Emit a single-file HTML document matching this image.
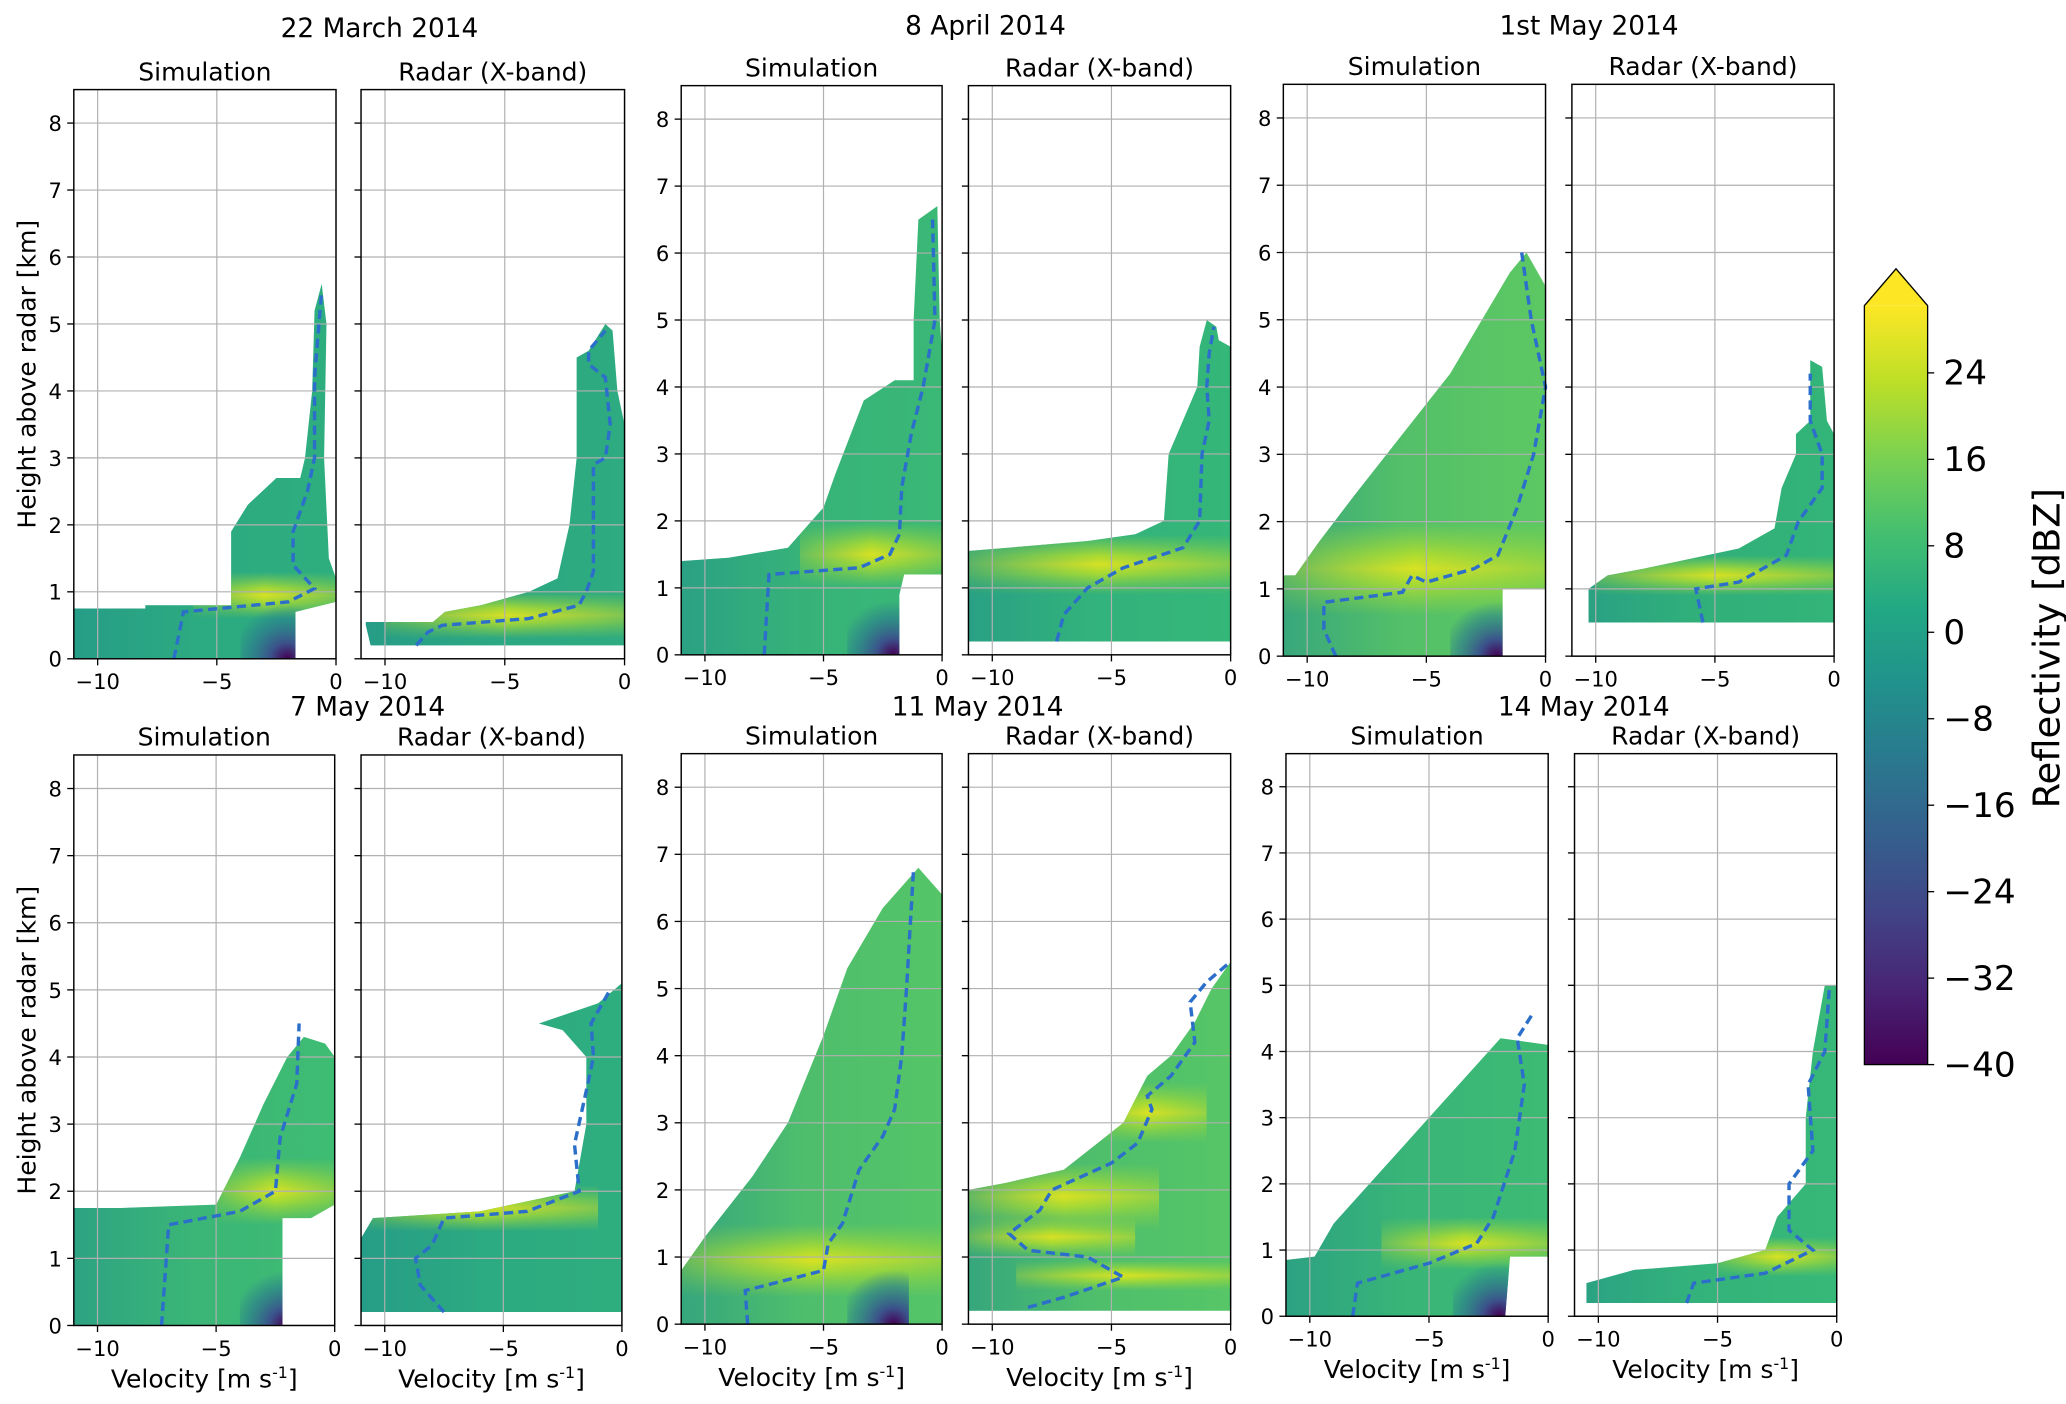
<!DOCTYPE html>
<html><head><meta charset="utf-8"><style>
html,body{margin:0;padding:0;background:#fff}
svg{display:block}
text{font-family:"DejaVu Sans","Liberation Sans",sans-serif;fill:#000}
</style></head><body>
<svg id="fig" width="2066" height="1404" viewBox="0 0 1568 1065.6" xmlns="http://www.w3.org/2000/svg">
<defs>
<linearGradient id="cbg" x1="0" y1="1" x2="0" y2="0">
<stop offset="0" stop-color="#440154"/><stop offset="0.1" stop-color="#482475"/><stop offset="0.2" stop-color="#414487"/><stop offset="0.3" stop-color="#355f8d"/><stop offset="0.4" stop-color="#2a788e"/><stop offset="0.5" stop-color="#21918c"/><stop offset="0.6" stop-color="#22a884"/><stop offset="0.7" stop-color="#44bf70"/><stop offset="0.8" stop-color="#7ad151"/><stop offset="0.9" stop-color="#bddf26"/><stop offset="1" stop-color="#fde725"/>
</linearGradient>
<linearGradient id="bandGrad" x1="0" y1="0" x2="0" y2="1">
<stop offset="0" stop-color="#9fd938" stop-opacity="0"/><stop offset="0.35" stop-color="#b5de2b" stop-opacity="0.9"/><stop offset="0.5" stop-color="#e0e31f" stop-opacity="0.95"/><stop offset="0.65" stop-color="#b5de2b" stop-opacity="0.9"/><stop offset="1" stop-color="#9fd938" stop-opacity="0"/>
</linearGradient>
<linearGradient id="bandGradH" x1="0" y1="0" x2="1" y2="0">
<stop offset="0" stop-color="#fff" stop-opacity="0.3"/><stop offset="0.5" stop-color="#fff" stop-opacity="1"/><stop offset="1" stop-color="#fff" stop-opacity="0.5"/>
</linearGradient>
<linearGradient id="leftShade" x1="0" y1="0" x2="1" y2="0">
<stop offset="0" stop-color="#21918c" stop-opacity="0.6"/><stop offset="0.45" stop-color="#21918c" stop-opacity="0.15"/><stop offset="1" stop-color="#21918c" stop-opacity="0"/>
</linearGradient>
<radialGradient id="darkSpot" cx="0.75" cy="1" r="0.9">
<stop offset="0" stop-color="#440154"/><stop offset="0.3" stop-color="#3b528b"/><stop offset="0.7" stop-color="#2a788e" stop-opacity="0.6"/><stop offset="1" stop-color="#2a788e" stop-opacity="0"/>
</radialGradient>
</defs>
</svg>
<script>
// ---- data ----
const dates = ["22 March 2014","8 April 2014","1st May 2014","7 May 2014","11 May 2014","14 May 2014"];
const panelTitles = ["Simulation","Radar (X-band)"];
const xTicks = [-10,-5,0];
const yTicks = [0,1,2,3,4,5,6,7,8];
const cbTicks = [24,16,8,0,-8,-16,-24,-32,-40];
const outline0 = [[-11,0],[-11,0.75],[-8,0.75],[-8,0.8],[-4.4,0.8],[-4.4,1.9],[-3.7,2.3],[-2.5,2.7],[-1.5,2.7],[-1.3,3],[-1,4],[-0.9,5.2],[-0.6,5.6],[-0.4,5],[-0.5,3],[-0.3,1.5],[0,1.2],[0,0.85],[-1.7,0.7],[-1.7,0]];
const outline1 = [[-10.8,0.5],[-10.6,0.2],[0,0.2],[0,3.5],[-0.3,4],[-0.5,4.9],[-0.8,5],[-1.5,4.6],[-2,4.5],[-2,3],[-2.3,2],[-2.8,1.2],[-4,1],[-6,0.8],[-7.5,0.7],[-8,0.55],[-10.8,0.55]];
const outline2 = [[-11,0],[-11,1.4],[-9,1.45],[-6.5,1.6],[-5,2.2],[-4.5,2.7],[-3.3,3.8],[-2,4.1],[-1.2,4.1],[-1.2,5],[-1,6.5],[-0.2,6.7],[-0.1,5],[0,4.5],[0,1.2],[-1.6,1.2],[-1.8,0.9],[-1.8,0]];
const outline3 = [[-11,0.2],[-11,1.55],[-6,1.7],[-4,1.8],[-2.8,2.0],[-2.6,3],[-2,3.5],[-1.4,4],[-1.3,4.6],[-1,5],[-0.6,4.9],[-0.5,4.7],[0,4.6],[0,0.2]];
const outline4 = [[-11,0],[-11,1.2],[-10.5,1.2],[-9.5,1.7],[-8,2.4],[-6,3.3],[-4,4.2],[-2.5,5.1],[-1.5,5.7],[-0.8,6],[0,5.5],[0,1],[-1.8,1],[-1.8,0]];
const outline5 = [[-10.3,0.5],[-10.3,1.0],[-9.5,1.2],[-8,1.3],[-4,1.6],[-2.5,1.9],[-2.2,2.5],[-1.6,3],[-1.6,3.3],[-1,3.5],[-1,4.4],[-0.5,4.3],[-0.3,3.5],[0,3.3],[0,0.5]];
const outline6 = [[-11,0],[-11,1.75],[-9,1.75],[-5,1.8],[-4,2.5],[-3,3.3],[-2,4],[-1.3,4.3],[-0.4,4.2],[0,4],[0,1.8],[-1,1.6],[-2.2,1.6],[-2.2,0]];
const outline7 = [[-11,0.2],[-11,1.3],[-10.5,1.6],[-6,1.7],[-2,2.0],[-1.5,3],[-1.5,4],[-2.5,4.4],[-3.5,4.5],[-1,4.8],[0,5.1],[0,0.2]];
const outline8 = [[-11,0],[-11,0.8],[-10,1.3],[-8,2.2],[-6.5,3],[-5,4.3],[-4,5.3],[-2.5,6.2],[-1,6.8],[0,6.4],[0,0]];
const outline9 = [[-11,0.2],[-11,2],[-9.5,2.1],[-7,2.3],[-4.5,3],[-3.5,3.7],[-2.5,4],[-1.5,4.5],[-0.8,5],[0,5.4],[0,0.2]];
const outline10 = [[-11,0],[-11,0.85],[-9.8,0.9],[-9,1.4],[-7,2.2],[-5,3],[-3.5,3.6],[-2,4.2],[0,4.1],[0,0.9],[-1.6,0.9],[-1.8,0]];
const outline11 = [[-10.5,0.3],[-10.5,0.5],[-8.5,0.7],[-5,0.8],[-3,1],[-2.5,1.5],[-1.3,2],[-1.3,3],[-1,4],[-0.5,5],[0,5],[0,0.2],[-10.5,0.2]];
const line0 = [[-6.8,0],[-6.4,0.7],[-2,0.85],[-0.9,1.05],[-1.8,1.4],[-1.8,1.9],[-1.2,2.5],[-0.9,3],[-0.9,4.2],[-0.6,5.5]];
const line1 = [[-8.7,0.2],[-8.2,0.4],[-7.6,0.5],[-4,0.6],[-1.9,0.8],[-1.6,1.0],[-1.3,1.3],[-1.3,2.9],[-0.8,3.0],[-0.6,3.5],[-0.8,4.2],[-1.5,4.4],[-1.5,4.6],[-0.8,4.9]];
const line2 = [[-7.5,0],[-7.3,1.2],[-3.5,1.3],[-2.2,1.5],[-1.8,1.8],[-1.7,2.5],[-1.3,3.3],[-0.8,4],[-0.3,5],[-0.4,6.5]];
const line3 = [[-7.3,0.2],[-7,0.6],[-6,1],[-4.5,1.3],[-2,1.6],[-1.3,2],[-1.2,3],[-0.9,3.5],[-1,4],[-0.9,4.5],[-0.7,4.9]];
const line4 = [[-8.8,0],[-9.3,0.4],[-9.3,0.8],[-6,0.95],[-5.6,1.2],[-5,1.1],[-3,1.3],[-2,1.5],[-1.2,2.2],[-0.5,3],[0,4],[-0.6,5],[-1,6]];
const line5 = [[-5.5,0.5],[-5.8,1],[-4,1.1],[-2,1.5],[-1.5,2],[-0.5,2.5],[-0.5,3],[-1,3.5],[-1,4.2]];
const line6 = [[-7.3,0],[-7,1.5],[-4,1.7],[-2.5,2],[-2.3,2.8],[-1.6,3.6],[-1.5,4.5]];
const line7 = [[-7.5,0.2],[-8.5,0.6],[-8.7,1],[-8,1.2],[-7.5,1.6],[-4,1.7],[-1.8,2],[-2,2.7],[-1.5,3.5],[-1.2,4],[-1.3,4.5],[-0.5,5]];
const line8 = [[-8.2,0],[-8.3,0.5],[-5,0.8],[-4.8,1.2],[-4.2,1.5],[-3.5,2.3],[-2.5,2.8],[-2,3.2],[-1.7,4],[-1.5,5],[-1.2,6.8]];
const line9 = [[-8.5,0.25],[-7,0.4],[-4.5,0.7],[-6,1],[-8.5,1.1],[-9.3,1.35],[-8,1.7],[-7.5,2],[-5,2.4],[-3.9,2.7],[-3.3,3.2],[-3.5,3.4],[-2.5,3.7],[-1.5,4.2],[-1.7,4.8],[-1,5.1],[0,5.4]];
const line10 = [[-8.2,0],[-8,0.5],[-5,0.8],[-3,1.1],[-2.3,1.5],[-1.4,2.5],[-1,3.5],[-1.3,4.2],[-0.6,4.6]];
const line11 = [[-6.3,0.2],[-6,0.5],[-3,0.65],[-1,1],[-2,1.3],[-2,2],[-1,2.5],[-1.2,3.5],[-0.5,4],[-0.3,5]];
const band0 = [[-6,0,0.6,1.3]];
const band1 = [[-10,0,0.3,1.0]];
const band2 = [[-6,0,1.0,2.0]];
const band3 = [[-11,0,0.9,1.8]];
const band4 = [[-11,0,0.6,2.0]];
const band5 = [[-10,0,0.9,1.5]];
const band6 = [[-5,0,1.5,2.5]];
const band7 = [[-11,-1,1.4,2.1]];
const band8 = [[-11,0,0.4,1.5]];
const band9 = [[-11,-3,1.4,2.4],[-6,-1,2.7,3.6],[-11,-4,1.0,1.6],[-9,0,0.5,0.95]];
const band10 = [[-7,0,0.7,1.5]];
const band11 = [[-5,0,0.6,1.2]];
const outlines=[outline0,outline1,outline2,outline3,outline4,outline5,outline6,outline7,outline8,outline9,outline10,outline11];
const lines=[line0,line1,line2,line3,line4,line5,line6,line7,line8,line9,line10,line11];
const bands=[band0,band1,band2,band3,band4,band5,band6,band7,band8,band9,band10,band11];
const mainColors=["#2eae7f","#2eab80","#3ab876","#35b779","#5cc863","#33b478","#3fbc73","#2eae7f","#55c568","#56c667","#3dbb74","#37b878"];

const NS="http://www.w3.org/2000/svg";
const svg=document.getElementById('fig');
const panels=[
 [56,255,68,500],[274,474,68,500],[517,715,65,497],[735,934,65,497],[974,1173,64,498],[1193,1392,64,498],
 [56,254,573,1006],[274,472,573,1006],[517,715,572,1005],[735,934,572,1005],[976,1175,572,999],[1195,1394,572,999]];
const dateX=[288,748,1206,279,742,1202], dateY=[28,26,26,543,543,543];
function mk(tag,attrs,parent){const e=document.createElementNS(NS,tag);for(const k in attrs)e.setAttribute(k,attrs[k]);(parent||svg).appendChild(e);return e;}

dates.forEach((d,i)=>{
  const t=mk('text',{x:dateX[i],y:dateY[i],'font-size':20,'text-anchor':'middle'});
  t.textContent=d;
  
  
});

panels.forEach((p,i)=>{
  const [l,r,t,b]=p;
  const X=v=>l+(v+11)/11*(r-l);
  const Y=h=>b-h/8.5*(b-t);
  const g=mk('g',{});
  
  
  const cp=mk('clipPath',{id:'cp'+i},g);
  const pts=outlines[i].map(q=>X(q[0])+','+Y(q[1])).join(' ');
  mk('polygon',{points:pts},cp);
  const fill=mk('polygon',{points:pts,fill:mainColors[i]},g);
  
  
  const cg=mk('g',{'clip-path':'url(#cp'+i+')'},g);
  mk('rect',{x:l,y:t,width:r-l,height:b-t,fill:'url(#leftShade)'},cg);
  bands[i].forEach(bd=>{
    const y0=Y(bd[3]),y1=Y(bd[2]);
    const mid=mk('mask',{id:'m'+i+'_'+bd[2]},cg);
    mk('rect',{x:X(bd[0]),y:y0,width:X(bd[1])-X(bd[0]),height:y1-y0,fill:'url(#bandGradH)'},mid);
    const rc=mk('rect',{x:X(bd[0]),y:y0,width:X(bd[1])-X(bd[0]),height:y1-y0,fill:'url(#bandGrad)',mask:'url(#m'+i+'_'+bd[2]+')'},cg);
    
    
  });
  if(i%2===0){
    mk('rect',{x:X(-4),y:Y(0.9),width:X(-1.4)-X(-4),height:Y(0)-Y(0.9),fill:'url(#darkSpot)'},cg);
  }
  xTicks.forEach(v=>{const gl=mk('line',{x1:X(v),x2:X(v),y1:t,y2:b,stroke:'#b0b0b0','stroke-width':0.9},g);
    });
  yTicks.forEach(h=>{const gl=mk('line',{x1:l,x2:r,y1:Y(h),y2:Y(h),stroke:'#b0b0b0','stroke-width':0.9},g);
    });
  const pl=mk('polyline',{points:lines[i].map(q=>X(q[0])+','+Y(q[1])).join(' '),fill:'none',stroke:'#2c6fca','stroke-width':2.6,'stroke-dasharray':'7,4'},g);
  
  
  const fr=mk('rect',{x:l,y:t,width:r-l,height:b-t,fill:'none',stroke:'#000','stroke-width':1.1},g);
  
  xTicks.forEach(v=>{
    mk('line',{x1:X(v),x2:X(v),y1:b,y2:b+5,stroke:'#000'},g);
    const tx=mk('text',{x:X(v),y:b+23,'font-size':16,'text-anchor':'middle'},g);
    tx.textContent=(v<0?'\u2212'+(-v):v);
    
  });
  yTicks.forEach(h=>{
    mk('line',{x1:l-5,x2:l,y1:Y(h),y2:Y(h),stroke:'#000'},g);
    if(i%2===0){const ty=mk('text',{x:l-9,y:Y(h)+6,'font-size':16,'text-anchor':'end'},g);
      ty.textContent=h;}
  });
  const st=mk('text',{x:(l+r)/2,y:t-7,'font-size':19,'text-anchor':'middle'},g);
  st.textContent=panelTitles[i%2];
  
  if(i>=6){
    const xl=mk('text',{x:(l+r)/2,y:b+47,'font-size':19,'text-anchor':'middle'},g);
    xl.innerHTML='Velocity [m s<tspan dy="-7" font-size="12">-1</tspan><tspan dy="7">]</tspan>';
    
  }
  if(i===0||i===6){
    const yl=mk('text',{x:0,y:0,'font-size':19,'text-anchor':'middle',transform:'translate(27,'+((t+b)/2)+') rotate(-90)'},g);
    yl.textContent='Height above radar [km]';
    
  }
});

const cb=mk('g',{});


const cbL=1415,cbR=1463,cbT=232,cbB=808;
mk('rect',{x:cbL,y:cbT,width:cbR-cbL,height:cbB-cbT,fill:'url(#cbg)'},cb);
mk('polygon',{points:`${cbL},${cbT} ${(cbL+cbR)/2},204 ${cbR},${cbT}`,fill:'#fde725'},cb);
mk('polygon',{points:`${cbL},${cbB} ${cbL},${cbT} ${(cbL+cbR)/2},204 ${cbR},${cbT} ${cbR},${cbB}`,fill:'none',stroke:'#000','stroke-width':1},cb);
const cbY=v=>cbB-(v+40)/(24+40)*(cbB-283);
cbTicks.forEach(v=>{
  mk('line',{x1:cbR,x2:cbR+5,y1:cbY(v),y2:cbY(v),stroke:'#000'},cb);
  const t=mk('text',{x:cbR+12,y:cbY(v)+9,'font-size':26},cb);
  t.textContent=(v<0?'\u2212'+(-v):v);
  
});
const cbl=mk('text',{x:0,y:0,'font-size':28,'text-anchor':'middle',transform:'translate(1563,492) rotate(-90)'},cb);
cbl.textContent='Reflectivity [dBZ]';

</script>
</body></html>
